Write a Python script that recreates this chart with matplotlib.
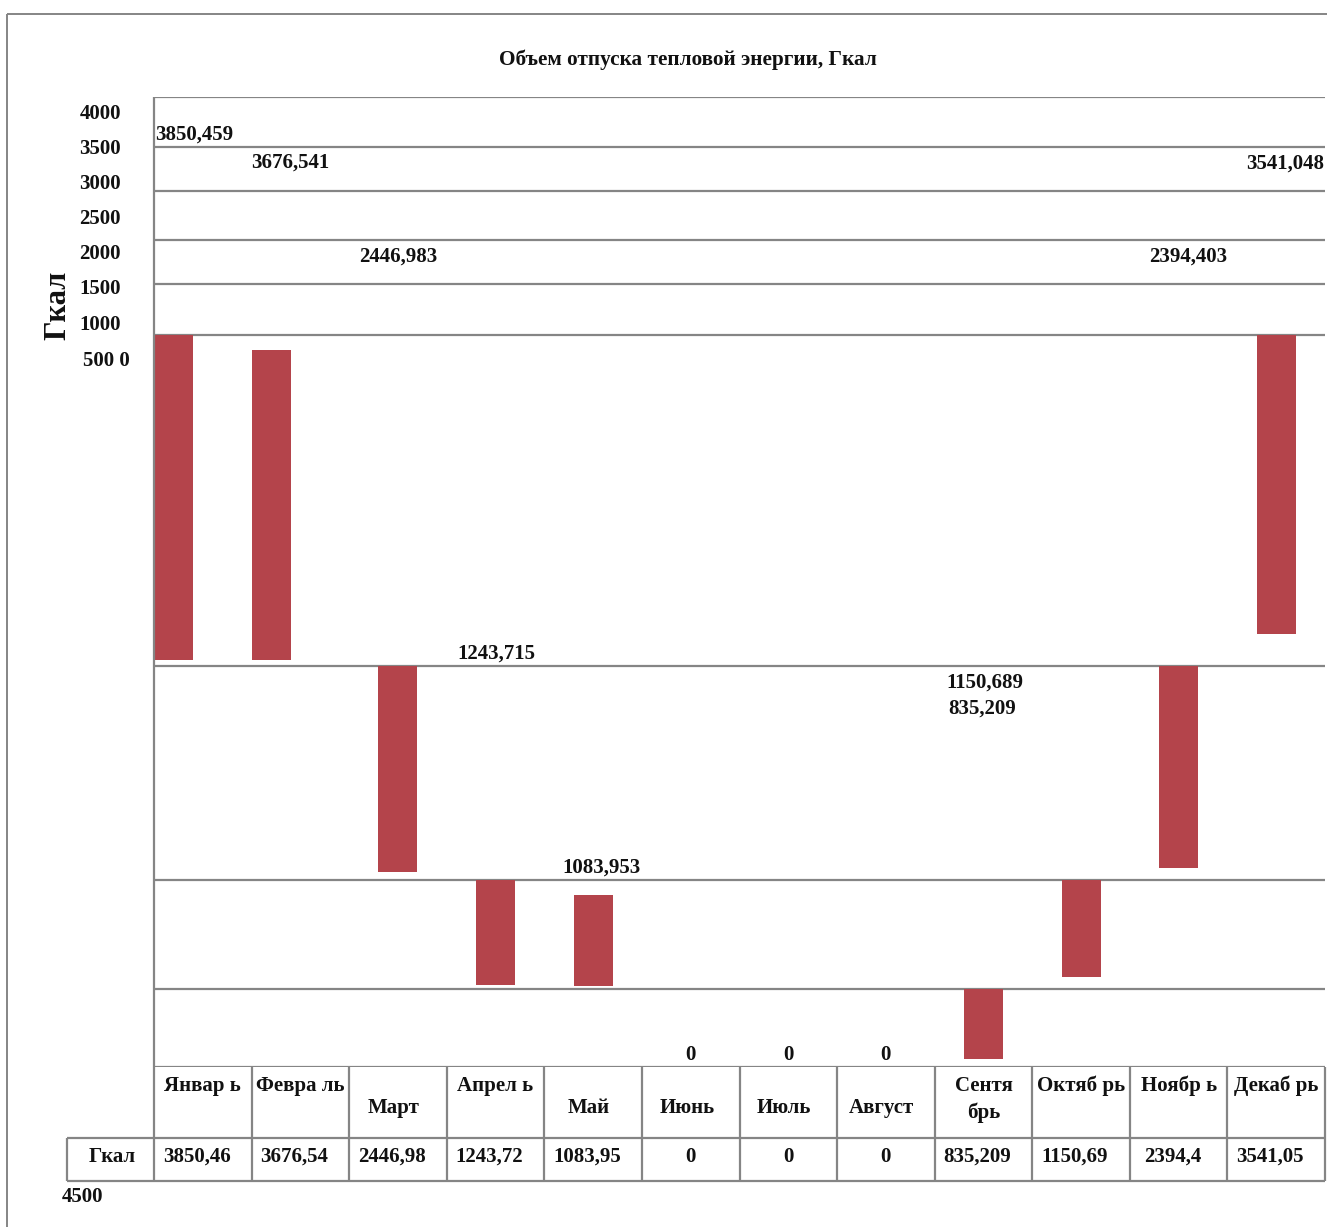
from decimal import Decimal, ROUND_HALF_UP

import matplotlib
matplotlib.use("Agg")
import matplotlib.pyplot as plt
from matplotlib.lines import Line2D

# ---- data -------------------------------------------------------------
months = ["Январ ь", "Февра ль", "Март", "Апрел ь", "Май", "Июнь", "Июль",
          "Август", "Сентя\nбрь", "Октяб рь", "Ноябр ь", "Декаб рь"]
heat_gcal = [3850.459, 3676.541, 2446.983, 1243.715, 1083.953, 0, 0, 0,
             835.209, 1150.689, 2394.403, 3541.048]
axis_labels = ["4000", "3500", "3000", "2500", "2000", "1500", "1000", "500 0"]
title = "Объем отпуска тепловой энергии, Гкал"
unit = "Гкал"

# ---- layout (pixels, origin top-left) ----------------------------------
W, H = 1327, 1227
plot_left, plot_right, plot_top, plot_bottom = 154, 1325, 97, 1067
span_units = 11505                       # vertical extent of the plot area, Гкал
bar_hang = [2823, 3001, 6749, 9287, 9465, 0, 0, 0, 10580, 9287, 6749, 2823]
bar_shift = [-0.3, -0.3, 0, 0, 0, 0, 0, 0, 0, 0, 0, 0]
grid_levels = [0, 593, 1115, 1696, 2218, 2823, 6749, 9287, 10580, 11505]
label_xy = [(194, 133), (290, 161), (398, 255), (496, 652), (602, 866),
            (690, 1053), (788, 1053), (885, 1053), (982, 707), (985, 681),
            (1188, 255), (1285, 162)]
axis_label_y = [112, 147, 182, 217, 252, 287, 323, 359]
axis_label_right = [121, 121, 121, 121, 121, 121, 121, 130]

BAR = "#b4444b"
LINE = "#858585"
INK = "#111111"
FONT = "Liberation Serif"
TEXT_DY = 2        # baseline nudge for all captions, px


def fx(x):
    return x / W


def fy(y):
    return 1 - y / H


def fmt(v, digits):
    """Excel-like general format with a decimal comma."""
    if v == 0:
        return "0"
    d = Decimal(repr(v))
    exp = d.adjusted()
    q = Decimal(1).scaleb(exp - digits + 1)
    s = format(d.quantize(q, rounding=ROUND_HALF_UP), "f")
    if "." in s:
        s = s.rstrip("0").rstrip(".")
    return s.replace(".", ",")


fig = plt.figure(figsize=(W / 100, H / 100), dpi=100)
fig.patch.set_facecolor("white")


def fline(x0, y0, x1, y1, lw=1.6):
    fig.add_artist(Line2D([fx(x0), fx(x1)], [fy(y0), fy(y1)],
                          transform=fig.transFigure, color=LINE, lw=lw,
                          solid_capstyle="butt"))


def ftext(x, y, s, size=15, ha="center", va="center", **kw):
    fig.text(fx(x), fy(y + TEXT_DY), s, fontsize=size, ha=ha, va=va,
             family=FONT, fontweight="bold", color=INK, **kw)


# ---- plot area with hanging bars -------------------------------------
ax = fig.add_axes([fx(plot_left), fy(plot_bottom),
                   (plot_right - plot_left) / W, (plot_bottom - plot_top) / H])
ax.set_xlim(-0.5, len(months) - 0.5)
ax.set_ylim(span_units, 0)
for s in ax.spines.values():
    s.set_visible(False)
ax.set_xticks([])
ax.set_yticks([])
ax.patch.set_alpha(0)

for lvl in grid_levels:
    ax.axhline(lvl, color=LINE, lw=1.6, zorder=1)

xs = [i + sh for i, sh in enumerate(bar_shift)]
ax.bar(xs, heat_gcal, bottom=bar_hang, width=0.4, color=BAR,
       linewidth=0, zorder=2)

# value labels
for v, (x, y) in zip(heat_gcal, label_xy):
    ftext(x, y, fmt(v, 7))

# ---- frame and axis captions ---------------------------------------
fline(7, 14, W, 14, lw=1.4)
fline(7, 14, 7, H, lw=1.4)
fline(plot_left, plot_top, plot_left, 1181)

ftext(688, 58, title, size=15.3)
for s, y, xr in zip(axis_labels, axis_label_y, axis_label_right):
    ftext(xr, y, s, ha="right")
ftext(58, 303, unit, size=22, rotation=90)
ftext(83, 1195, "4500")

# ---- data table ----------------------------------------------------
col_w = (plot_right - plot_left) / len(months)
row_head_bottom, row_val_bottom = 1138, 1181
fline(67, row_head_bottom, plot_right, row_head_bottom)
fline(67, row_val_bottom, plot_right, row_val_bottom)
fline(67, row_head_bottom, 67, row_val_bottom)
for i in range(1, len(months) + 1):
    xb = plot_left + i * col_w
    fline(xb, plot_bottom, xb, row_val_bottom)

ftext(112, 1155, unit)
for i, (m, v) in enumerate(zip(months, heat_gcal)):
    cx = plot_left + (i + 0.5) * col_w
    if " " in m or "\n" in m:
        ftext(cx, 1074, m, va="top", linespacing=1.4)
    else:
        ftext(cx - 4, 1106, m)
    ftext(cx if v == 0 else cx - 6, 1155, fmt(v, 6))

fig.savefig("out.png", dpi=100, facecolor="white")
